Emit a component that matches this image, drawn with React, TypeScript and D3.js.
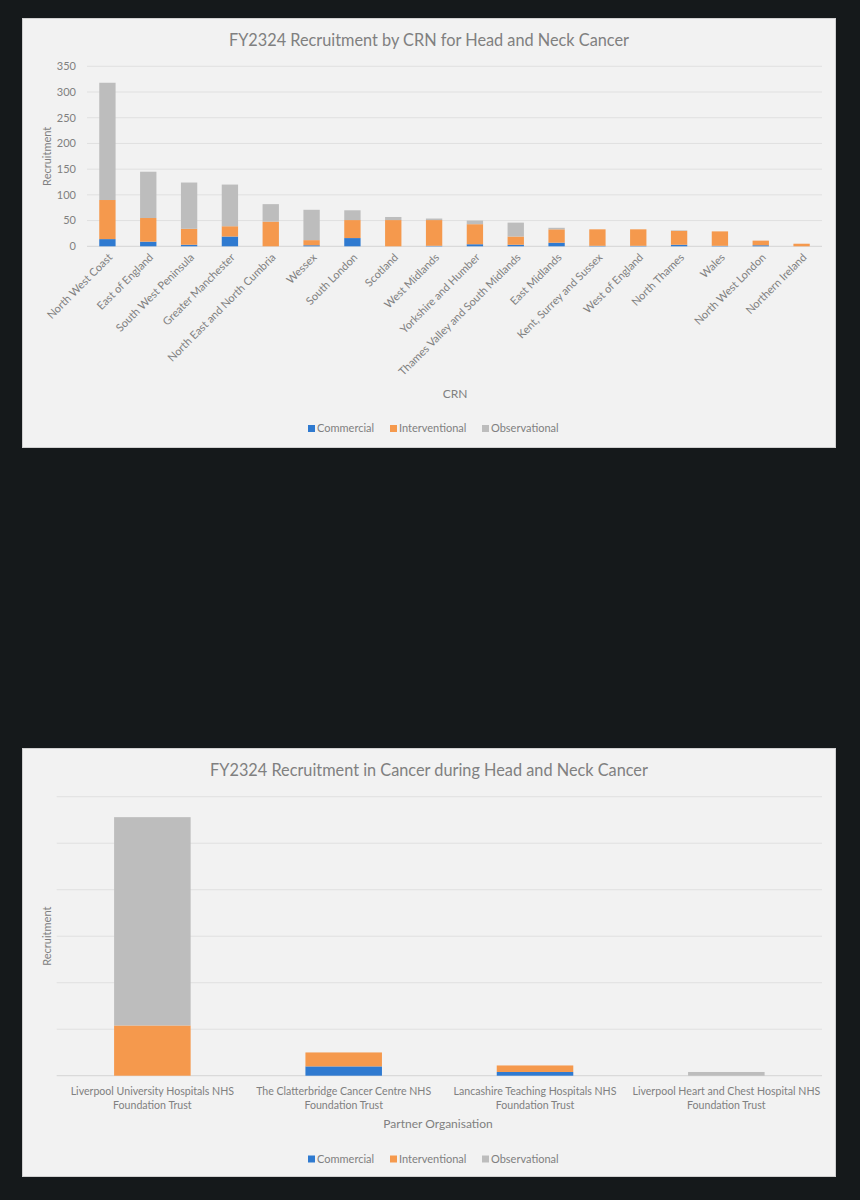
import React from "react";
import * as d3 from "d3";

const SERIES = ["Commercial", "Interventional", "Observational"];
const COLORS = ["#2f7ad0", "#f5994d", "#bdbdbd"];

const crnNames = [
  "North West Coast", "East of England", "South West Peninsula", "Greater Manchester",
  "North East and North Cumbria", "Wessex", "South London", "Scotland", "West Midlands",
  "Yorkshire and Humber", "Thames Valley and South Midlands", "East Midlands",
  "Kent, Surrey and Sussex", "West of England", "North Thames", "Wales",
  "North West London", "Northern Ireland",
];
const crnCommercial = [14, 9, 3, 19, 0, 2, 16, 0, 1, 4, 3, 7, 1, 1, 3, 1, 2, 0];
const crnInterventional = [76, 46, 31, 20, 48, 10, 35, 51, 50, 39, 16, 26, 32, 32, 27, 28, 9, 5];
const crnObservational = [228, 90, 90, 81, 34, 59, 19, 6, 3, 7, 27, 3, 0, 0, 1, 0, 0, 0];
const crnTicks = [0, 50, 100, 150, 200, 250, 300, 350];

const orgNames = [
  ["Liverpool University Hospitals NHS", "Foundation Trust"],
  ["The Clatterbridge Cancer Centre NHS", "Foundation Trust"],
  ["Lancashire Teaching Hospitals NHS", "Foundation Trust"],
  ["Liverpool Heart and Chest Hospital NHS", "Foundation Trust"],
];
const orgCommercial = [0, 10, 4, 0];
const orgInterventional = [54, 15, 7, 0];
const orgObservational = [224, 0, 0, 4];
const orgTicks = [0, 50, 100, 150, 200, 250, 300];

const FONT = "Lato, 'Open Sans', sans-serif";
const TEXT = "#808080";

interface ChartProps {
  top: number;
  height: number;
  title: string;
  xTitle: string;
  labels: string[][];
  values: number[][];
  ticks: number[];
  showTickLabels: boolean;
  plot: { left: number; right: number; top: number; bottom: number };
  rotate: boolean;
  labelSize: number;
  xTitleX: number;
  xTitleY: number;
  legendY: number;
}

function StackedChart(p: ChartProps) {
  const n = p.labels.length;
  const x = d3
    .scaleBand<number>()
    .domain(d3.range(n))
    .range([p.plot.left, p.plot.right])
    .paddingInner(0.6)
    .paddingOuter(0.3);
  const y = d3
    .scaleLinear()
    .domain([0, p.ticks[p.ticks.length - 1]])
    .range([p.plot.bottom, p.plot.top]);

  const rows = d3.range(n).map((i) => {
    const r: any = { i };
    SERIES.forEach((s, k) => (r[s] = p.values[k][i]));
    return r;
  });
  const stacked = d3.stack<any>().keys(SERIES)(rows);

  const midY = (p.plot.top + p.plot.bottom) / 2;
  const legendX = [308, 390, 482];

  return (
    <g transform={`translate(0,${p.top})`}>
      <rect x={22.5} y={0.5} width={813} height={p.height} fill="#f2f2f2" stroke="#d0d0d0" />
      <text x={429} y={28} textAnchor="middle" fontSize={16.3} fill={TEXT} fontFamily={FONT}>
        {p.title}
      </text>
      {p.ticks.map((t) => (
        <g key={t}>
          <line
            x1={p.plot.left}
            x2={p.plot.right}
            y1={y(t)}
            y2={y(t)}
            stroke={t === 0 ? "#d4d4d4" : "#e0e0e0"}
            strokeWidth={1}
          />
          {p.showTickLabels && (
            <text
              x={p.plot.left - 11}
              y={y(t)}
              dy="0.35em"
              textAnchor="end"
              fontSize={11}
              fill={TEXT}
              fontFamily={FONT}
            >
              {t}
            </text>
          )}
        </g>
      ))}
      {stacked.map((layer, k) => (
        <g key={SERIES[k]} fill={COLORS[k]}>
          {layer.map((d, i) =>
            d[1] > d[0] ? (
              <rect
                key={i}
                x={x(i)}
                width={x.bandwidth()}
                y={y(d[1])}
                height={y(d[0]) - y(d[1])}
              />
            ) : null
          )}
        </g>
      ))}
      {p.labels.map((lines, i) => {
        const cx = (x(i) as number) + x.bandwidth() / 2;
        if (p.rotate) {
          return (
            <text
              key={i}
              transform={`translate(${cx + 3},${p.plot.bottom + 9}) rotate(-45)`}
              textAnchor="end"
              dy="0.35em"
              fontSize={p.labelSize}
              fill={TEXT}
              fontFamily={FONT}
            >
              {lines[0]}
            </text>
          );
        }
        return (
          <text key={i} textAnchor="middle" fontSize={p.labelSize} fill={TEXT} fontFamily={FONT}>
            {lines.map((l, j) => (
              <tspan key={j} x={cx} y={p.plot.bottom + 19 + j * 14}>
                {l}
              </tspan>
            ))}
          </text>
        );
      })}
      <text
        transform={`translate(47,${midY}) rotate(-90)`}
        textAnchor="middle"
        dy="0.35em"
        fontSize={11}
        fill={TEXT}
        fontFamily={FONT}
      >
        Recruitment
      </text>
      <text x={p.xTitleX} y={p.xTitleY} textAnchor="middle" dy="0.35em" fontSize={12} fill={TEXT} fontFamily={FONT}>
        {p.xTitle}
      </text>
      {SERIES.map((s, k) => (
        <g key={s} transform={`translate(${legendX[k]},${p.legendY})`}>
          <rect x={0} y={-3.5} width={7} height={7} fill={COLORS[k]} />
          <text x={9} dy="0.35em" fontSize={11} fill={TEXT} fontFamily={FONT}>
            {s}
          </text>
        </g>
      ))}
    </g>
  );
}

export default function App() {
  return (
    <div style={{ position: "absolute", left: 0, top: 0 }}>
      <svg width={860} height={1200} style={{ display: "block", background: "#15191b" }}>
        <StackedChart
          top={18}
          height={429}
          title="FY2324 Recruitment by CRN for Head and Neck Cancer"
          xTitle="CRN"
          labels={crnNames.map((c) => [c])}
          values={[crnCommercial, crnInterventional, crnObservational]}
          ticks={crnTicks}
          showTickLabels={true}
          plot={{ left: 87, right: 822, top: 48.3, bottom: 228.3 }}
          rotate={true}
          labelSize={11}
          xTitleX={455}
          xTitleY={376}
          legendY={410.5}
        />
        <StackedChart
          top={748}
          height={428}
          title="FY2324 Recruitment in Cancer during Head and Neck Cancer"
          xTitle="Partner Organisation"
          labels={orgNames}
          values={[orgCommercial, orgInterventional, orgObservational]}
          ticks={orgTicks}
          showTickLabels={false}
          plot={{ left: 56.7, right: 822, top: 48.7, bottom: 327.7 }}
          rotate={false}
          labelSize={10.6}
          xTitleX={438}
          xTitleY={376}
          legendY={411}
        />
      </svg>
    </div>
  );
}
